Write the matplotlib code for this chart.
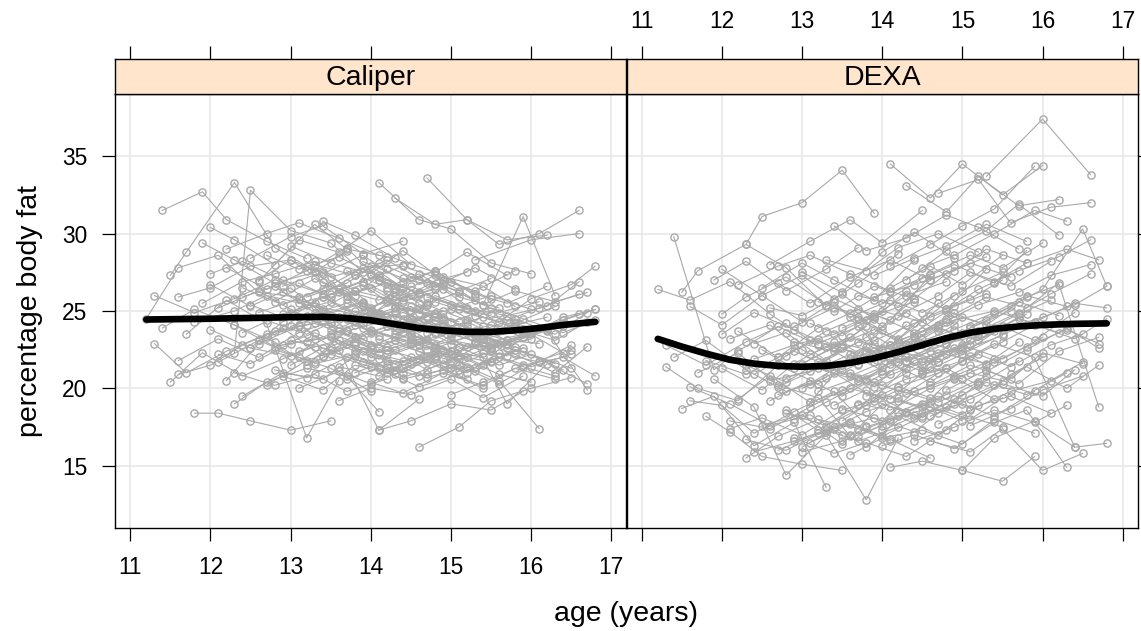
import matplotlib
matplotlib.use("Agg")
import matplotlib.pyplot as plt

plt.rcParams['font.family'] = ['Liberation Sans', 'DejaVu Sans']

# one row per girl: visit ages, caliper estimate, DEXA estimate
ages = [
    [11.4, 11.9, 12.2, 12.7, 13.2], [11.2, 11.6, 12.1, 12.6, 13.1], [11.5, 11.7, 12.3, 12.8, 13.3],
    [11.8, 12.1, 12.5, 13.0, 13.5], [12.3, 12.5, 13.0, 13.5, 13.9], [11.6, 12.0, 12.4, 12.9, 13.4, 13.8],
    [11.5, 11.9, 12.4, 12.9, 13.3], [11.7, 12.2, 12.7, 13.2, 13.6], [11.9, 12.4, 12.8, 13.3, 13.8, 14.2],
    [12.0, 12.5, 13.0, 13.4, 13.9], [12.0, 12.3, 12.8, 13.3, 13.7, 14.2], [12.1, 12.6, 13.1, 13.5, 14.0],
    [12.2, 12.6, 13.1, 13.6, 14.1], [12.2, 12.7, 13.2, 13.7, 14.1, 14.6], [12.3, 12.8, 13.2, 13.7, 14.2],
    [12.4, 12.9, 13.4, 13.8, 14.3], [12.4, 12.8, 13.3, 13.8, 14.3, 14.7], [12.5, 13.0, 13.4, 13.9, 14.4],
    [12.5, 13.0, 13.5, 14.0, 14.5], [12.6, 13.1, 13.5, 14.0, 14.5, 14.9], [12.6, 13.0, 13.5, 14.0, 14.4],
    [12.7, 13.2, 13.6, 14.1, 14.6], [12.7, 13.1, 13.6, 14.1, 14.5, 15.0], [12.8, 13.3, 13.7, 14.2, 14.7],
    [12.8, 13.2, 13.7, 14.2, 14.6], [12.9, 13.4, 13.9, 14.3, 14.8, 15.3], [12.9, 13.3, 13.8, 14.3, 14.8],
    [13.0, 13.5, 14.0, 14.4, 14.9], [13.0, 13.4, 13.9, 14.4, 14.9, 15.3], [13.1, 13.6, 14.0, 14.5, 15.0],
    [13.1, 13.5, 14.0, 14.5, 14.9], [13.2, 13.7, 14.1, 14.6, 15.1], [13.2, 13.6, 14.1, 14.6, 15.0, 15.5],
    [13.3, 13.8, 14.2, 14.7, 15.2], [13.3, 13.7, 14.2, 14.7, 15.1], [13.4, 13.9, 14.3, 14.8, 15.3],
    [13.4, 13.8, 14.3, 14.8, 15.2, 15.7], [13.5, 14.0, 14.4, 14.9, 15.4], [13.5, 13.9, 14.4, 14.9, 15.3],
    [13.6, 14.1, 14.5, 15.0, 15.5], [13.6, 14.0, 14.5, 15.0, 15.4, 15.9], [13.7, 14.2, 14.6, 15.1, 15.6],
    [13.7, 14.1, 14.6, 15.1, 15.5], [13.8, 14.3, 14.7, 15.2, 15.7], [13.8, 14.2, 14.7, 15.2, 15.6, 16.1],
    [13.9, 14.4, 14.8, 15.3, 15.8], [13.9, 14.3, 14.8, 15.3, 15.7], [14.0, 14.5, 14.9, 15.4, 15.9],
    [14.0, 14.4, 14.9, 15.4, 15.8, 16.3], [14.1, 14.6, 15.0, 15.5, 16.0], [14.1, 14.5, 15.0, 15.5, 15.9],
    [14.2, 14.7, 15.1, 15.6, 16.1], [14.2, 14.6, 15.1, 15.6, 16.0, 16.5], [14.3, 14.8, 15.2, 15.7, 16.2],
    [14.3, 14.7, 15.2, 15.7, 16.1], [14.4, 14.9, 15.3, 15.8, 16.3], [14.4, 14.8, 15.3, 15.8, 16.2, 16.7],
    [14.5, 15.0, 15.4, 15.9, 16.4], [14.5, 14.9, 15.4, 15.9, 16.3], [14.6, 15.1, 15.5, 16.0, 16.5],
    [14.6, 15.0, 15.5, 16.0, 16.4, 16.8], [14.7, 15.2, 15.6, 16.1, 16.6], [14.7, 15.1, 15.6, 16.1, 16.5],
    [14.8, 15.3, 15.7, 16.2, 16.7], [14.8, 15.2, 15.7, 16.2, 16.6], [15.0, 15.5, 15.9, 16.4, 16.8],
    [15.0, 15.4, 15.9, 16.4, 16.8], [15.1, 15.6, 16.0, 16.5, 16.8], [11.3, 11.8, 12.3, 12.8],
    [11.6, 12.1, 12.6, 13.1, 13.5], [11.9, 12.3, 12.8, 13.3, 13.7], [12.0, 12.5, 12.9, 13.4, 13.9, 14.3],
    [12.1, 12.6, 13.0, 13.5, 14.0], [12.3, 12.7, 13.2, 13.7, 14.1], [12.6, 13.1, 13.6, 14.0, 14.5],
    [12.9, 13.4, 13.8, 14.3, 14.8], [13.0, 13.5, 13.9, 14.4, 14.9], [13.2, 13.7, 14.1, 14.6, 15.1, 15.5],
    [13.5, 14.0, 14.5, 14.9, 15.4], [13.7, 14.2, 14.7, 15.1, 15.6], [14.0, 14.5, 14.9, 15.4, 15.8],
    [14.2, 14.7, 15.1, 15.6, 16.0], [14.5, 15.0, 15.5, 15.9, 16.4], [14.9, 15.4, 15.8, 16.3, 16.7],
    [15.2, 15.7, 16.1, 16.6], [13.1, 13.6, 14.1, 14.6, 15.0], [12.4, 12.9, 13.3, 13.8, 14.3],
    [13.8, 14.3, 14.8, 15.3, 15.7, 16.2], [13.4, 13.9, 14.4, 14.8, 15.3], [12.8, 13.3, 13.8, 14.2, 14.7],
    [13.6, 14.1, 14.6, 15.0, 15.5], [14.3, 14.8, 15.3, 15.7, 16.2], [15.3, 15.8, 16.3, 16.7],
    [15.3, 16.0, 16.6], [14.1, 14.6, 15.0, 15.4, 15.9],
    [11.3, 11.7, 12.2, 12.7, 13.2], [11.6, 12.0, 12.5, 13.0, 13.4, 13.9], [11.8, 12.3, 12.7, 13.2, 13.7],
    [12.0, 12.4, 12.9, 13.4, 13.8], [12.1, 12.5, 13.0, 13.5, 13.9, 14.4], [12.2, 12.7, 13.1, 13.6, 14.1],
    [12.3, 12.8, 13.3, 13.7, 14.2], [12.5, 12.9, 13.4, 13.9, 14.3, 14.8], [12.6, 13.1, 13.5, 14.0, 14.5],
    [12.7, 13.1, 13.6, 14.1, 14.6], [12.8, 13.3, 13.8, 14.2, 14.7, 15.2], [12.9, 13.4, 13.8, 14.3, 14.8],
    [13.0, 13.4, 13.9, 14.4, 14.8], [13.1, 13.6, 14.0, 14.5, 15.0, 15.4], [13.2, 13.7, 14.2, 14.6, 15.1],
    [13.3, 13.8, 14.2, 14.7, 15.2], [13.4, 13.8, 14.3, 14.8, 15.3], [13.5, 14.0, 14.4, 14.9, 15.4, 15.8],
    [13.6, 14.1, 14.5, 15.0, 15.5], [13.7, 14.1, 14.6, 15.1, 15.5], [13.8, 14.3, 14.8, 15.2, 15.7],
    [13.9, 14.4, 14.8, 15.3, 15.8, 16.2], [14.0, 14.5, 15.0, 15.4, 15.9], [14.1, 14.6, 15.1, 15.5, 16.0],
    [14.2, 14.7, 15.2, 15.6, 16.1, 16.5], [14.3, 14.8, 15.2, 15.7, 16.2], [14.4, 14.9, 15.4, 15.8, 16.3],
    [14.6, 15.1, 15.5, 16.0, 16.4], [14.7, 15.2, 15.7, 16.1, 16.6], [14.9, 15.4, 15.8, 16.3, 16.7],
    [15.1, 15.6, 16.0, 16.5], [15.4, 15.8, 16.3, 16.7], [11.4, 11.8, 12.3, 12.8, 13.3],
    [12.4, 12.9, 13.4, 13.9, 14.4], [13.0, 13.5, 14.0, 14.5, 15.0], [13.6, 14.0, 14.5, 15.0, 15.5, 16.0],
    [14.4, 14.9, 15.4, 15.9, 16.3], [12.7, 13.2, 13.7, 14.2, 14.6], [13.9, 14.4, 14.9, 15.3, 15.8],
    [15.0, 15.5, 15.9, 16.4, 16.8],
]

caliper = [
    [31.5, 32.7, 30.9, 29.5, 28.4], [24.5, 27.8, 28.6, 26.2, 25.9], [27.3, 28.8, 33.3, 29.1, 27.6],
    [18.4, 18.4, 17.9, 17.3, 17.9], [22.3, 32.8, 30.2, 29.4, 27.5], [20.9, 21.5, 22.8, 23.9, 22.1, 23.0],
    [20.4, 22.3, 20.8, 21.9, 22.7], [23.5, 25.7, 24.2, 16.8, 20.5], [25.5, 26.9, 27.4, 28.2, 26.0, 27.7],
    [26.7, 25.3, 26.5, 24.8, 25.6], [30.4, 29.6, 28.0, 30.6, 29.0, 28.5], [21.7, 23.1, 22.0, 21.3, 19.8],
    [20.5, 22.9, 24.0, 24.6, 23.4], [27.8, 26.4, 27.6, 29.1, 27.0, 25.5], [24.1, 23.0, 21.5, 23.7, 24.4],
    [19.5, 21.0, 20.6, 22.1, 21.2], [25.9, 26.6, 24.9, 26.3, 23.8, 24.7], [28.4, 29.8, 30.5, 28.7, 29.5],
    [22.6, 22.1, 23.4, 22.0, 21.6], [24.9, 25.8, 26.7, 25.2, 24.3, 25.0], [27.0, 28.3, 27.2, 27.9, 26.5],
    [20.2, 21.8, 22.5, 17.3, 19.3], [23.3, 24.6, 23.9, 24.9, 23.5, 22.4], [25.6, 27.1, 26.0, 26.8, 25.4],
    [21.2, 20.7, 22.0, 21.4, 20.8], [26.2, 25.1, 24.2, 26.0, 27.3, 25.7], [22.8, 23.6, 22.4, 23.1, 21.9],
    [29.2, 28.1, 27.4, 28.9, 27.0], [24.0, 24.7, 25.5, 23.6, 24.2, 23.0], [20.0, 21.1, 20.3, 22.0, 21.5],
    [26.8, 25.9, 26.5, 25.0, 24.5], [23.0, 23.8, 22.6, 23.9, 22.7], [27.9, 26.4, 27.3, 26.1, 26.9, 25.8],
    [21.6, 22.2, 21.0, 21.7, 20.6], [25.3, 24.5, 25.7, 24.1, 23.7], [24.4, 23.2, 24.0, 22.8, 23.4],
    [30.8, 29.9, 28.4, 27.5, 28.8, 27.3], [22.2, 21.4, 20.6, 21.2, 20.0], [26.1, 26.9, 25.6, 26.4, 25.0],
    [23.7, 24.8, 23.4, 22.9, 22.5], [19.2, 20.0, 19.6, 20.6, 19.4, 20.8], [27.6, 26.5, 27.4, 25.9, 25.2],
    [22.9, 22.3, 23.2, 22.1, 21.7], [25.0, 24.2, 25.4, 24.4, 23.9], [21.0, 21.8, 20.7, 21.4, 20.5, 17.4],
    [28.2, 27.1, 26.6, 27.8, 26.4], [23.9, 23.3, 22.6, 23.5, 22.8], [24.6, 25.3, 24.1, 23.2, 23.8],
    [20.4, 19.7, 21.0, 20.2, 21.3, 20.6], [33.3, 30.9, 30.3, 28.1, 27.4], [17.3, 17.9, 19.0, 18.6, 19.8],
    [26.3, 25.5, 26.2, 24.9, 25.6], [22.5, 21.9, 22.7, 21.5, 22.2, 21.3], [32.3, 30.6, 30.9, 29.6, 29.9],
    [24.8, 23.6, 24.3, 23.1, 22.9], [21.3, 22.4, 21.1, 22.5, 21.6], [25.7, 24.9, 23.6, 24.5, 23.7, 19.9],
    [23.1, 22.2, 23.0, 22.4, 21.2], [27.2, 26.7, 25.4, 31.1, 26.0], [16.2, 17.5, 19.2, 20.0, 20.7],
    [24.2, 23.5, 22.8, 23.6, 24.4, 25.1], [33.6, 30.9, 29.3, 30.0, 31.5], [20.9, 21.5, 20.3, 21.8, 22.5],
    [22.0, 22.9, 19.0, 21.6, 20.3], [26.0, 25.2, 24.7, 25.3, 26.9], [23.4, 24.1, 23.3, 24.6, 25.1],
    [19.6, 20.4, 21.5, 22.0, 20.8], [25.1, 24.3, 25.8, 26.7, 27.9], [26.0, 24.9, 25.8, 27.0],
    [21.8, 23.2, 22.0, 23.6, 24.3], [29.4, 28.3, 26.8, 27.5, 28.9], [23.8, 22.6, 24.3, 25.9, 24.7, 26.2],
    [25.2, 26.3, 25.1, 23.8, 22.8], [19.0, 20.4, 21.3, 20.8, 18.5], [26.9, 29.6, 28.8, 30.2, 28.0],
    [20.8, 19.9, 21.5, 20.9, 22.3], [24.9, 25.6, 24.5, 25.9, 26.8], [25.9, 26.8, 28.1, 27.0, 26.3, 27.1],
    [23.5, 22.7, 23.8, 22.5, 22.0], [25.8, 24.0, 22.5, 23.7, 22.9], [27.3, 26.1, 27.2, 26.6, 25.3],
    [22.7, 21.2, 22.1, 20.9, 20.4], [24.5, 23.1, 22.6, 23.3, 24.0], [21.9, 23.0, 22.2, 21.0, 22.7],
    [24.0, 22.6, 23.9, 24.8], [22.4, 23.1, 21.9, 22.8, 23.6], [23.6, 24.8, 25.5, 24.1, 25.0],
    [24.3, 25.2, 24.8, 23.7, 23.1, 23.8], [27.4, 28.6, 26.9, 27.6, 26.0], [23.7, 24.2, 23.3, 24.0, 24.6],
    [21.4, 20.8, 21.9, 21.3, 22.4], [26.5, 27.6, 26.1, 25.5, 26.6], [23.0, 24.2, 23.5, 24.9],
    [28.3, 29.6, 30.0], [23.2, 22.4, 21.8, 22.9, 23.5],
    [22.9, 21.0, 22.4, 23.5, 24.1], [25.9, 26.5, 27.9, 28.3, 26.9, 25.4], [24.3, 25.0, 26.0, 25.4, 24.9],
    [27.4, 28.2, 27.0, 26.1, 27.3], [22.2, 21.6, 22.9, 23.3, 22.4, 21.8], [29.0, 30.0, 30.7, 29.7, 28.6],
    [21.0, 20.2, 20.9, 19.8, 20.6], [25.4, 24.6, 25.9, 26.7, 25.3, 24.6], [23.1, 24.1, 22.7, 23.8, 23.0],
    [28.6, 27.7, 28.5, 27.2, 26.1], [22.5, 21.7, 23.0, 22.2, 23.1, 22.0], [26.6, 27.5, 26.3, 25.7, 26.4],
    [21.5, 22.6, 21.7, 21.0, 22.1], [25.5, 26.2, 25.0, 24.4, 25.1, 24.0], [24.7, 25.5, 24.6, 25.2, 24.3],
    [28.0, 27.3, 28.3, 26.8, 27.5], [22.0, 22.8, 21.6, 22.4, 21.3], [24.2, 24.9, 23.9, 24.6, 23.4, 22.7],
    [26.4, 25.7, 26.6, 25.4, 24.8], [20.6, 21.3, 20.1, 20.9, 21.8], [23.3, 22.5, 23.6, 22.7, 22.1],
    [25.3, 24.5, 25.6, 24.7, 24.1, 24.6], [22.3, 23.2, 22.4, 21.5, 22.6], [27.0, 26.2, 25.3, 26.0, 25.1],
    [21.5, 22.1, 21.0, 22.3, 21.7, 22.8], [23.5, 24.4, 23.7, 22.9, 23.9], [24.9, 24.0, 23.2, 24.2, 25.3],
    [22.8, 21.9, 22.7, 23.5, 22.3], [25.9, 25.1, 24.4, 25.2, 26.1], [23.8, 24.6, 23.9, 23.1, 24.3],
    [21.2, 22.0, 21.4, 22.2], [25.4, 26.3, 25.6, 26.2], [23.9, 25.1, 24.1, 22.7, 23.2],
    [26.5, 25.4, 26.4, 27.8, 28.0], [23.1, 22.5, 23.6, 24.5, 23.8], [24.5, 23.7, 22.9, 23.6, 22.6, 23.2],
    [20.7, 21.6, 22.3, 21.4, 20.8], [24.4, 23.5, 24.7, 25.6, 24.9], [26.9, 27.9, 27.0, 26.3, 27.6],
    [24.3, 25.2, 24.5, 23.6, 24.4],
]

dexa = [
    [29.8, 21.2, 22.4, 24.0, 22.8], [26.4, 25.7, 26.9, 24.8, 23.1], [26.2, 27.6, 29.3, 27.8, 25.3],
    [18.2, 17.2, 15.6, 15.1, 14.7], [29.3, 31.1, 32.0, 34.1, 31.3], [19.2, 18.9, 17.1, 18.5, 19.8, 17.6],
    [18.7, 19.5, 16.3, 17.8, 13.6], [21.0, 22.3, 20.2, 19.4, 16.9], [20.6, 18.8, 14.4, 17.0, 12.8, 16.8],
    [27.7, 26.0, 24.3, 25.6, 22.9], [24.8, 25.9, 27.2, 25.4, 26.8, 28.7], [17.9, 17.4, 18.8, 19.9, 21.1],
    [19.3, 20.8, 19.1, 22.2, 20.9], [23.7, 22.0, 23.9, 25.1, 24.4, 27.3], [21.5, 20.4, 21.7, 23.0, 22.5],
    [15.9, 16.6, 17.5, 16.2, 18.4], [22.9, 23.6, 21.8, 23.3, 24.9, 23.7], [26.5, 28.1, 27.0, 25.7, 28.3],
    [17.6, 18.3, 16.4, 19.0, 18.1], [20.5, 21.1, 22.6, 21.4, 22.9, 24.1], [25.2, 24.7, 26.1, 24.0, 25.8],
    [16.0, 17.1, 17.8, 16.7, 15.5], [19.6, 20.3, 21.9, 22.8, 21.2, 23.6], [22.1, 23.7, 24.6, 23.2, 25.5],
    [18.6, 17.3, 18.9, 20.1, 19.4], [23.0, 22.4, 24.5, 26.3, 25.1, 27.7], [18.0, 19.1, 20.5, 19.7, 21.3],
    [27.5, 26.2, 28.8, 30.1, 28.4], [20.0, 21.0, 19.4, 21.8, 22.6, 21.5], [16.5, 17.7, 16.9, 18.2, 19.6],
    [24.2, 23.4, 25.0, 24.3, 26.0], [19.8, 20.7, 21.6, 20.4, 22.1], [25.6, 24.9, 26.5, 27.9, 26.7, 28.6],
    [17.2, 18.5, 19.2, 18.4, 20.3], [22.7, 21.5, 23.1, 24.0, 22.8], [21.2, 20.1, 22.0, 22.9, 23.8],
    [30.5, 28.9, 29.7, 31.2, 30.4, 29.0], [18.7, 17.9, 19.8, 20.7, 19.3], [23.9, 24.8, 23.6, 25.3, 26.1],
    [20.8, 21.9, 21.1, 22.5, 23.4], [15.7, 16.8, 17.3, 16.4, 18.0, 17.1], [26.0, 25.3, 27.0, 28.1, 27.2],
    [19.0, 18.6, 20.0, 21.0, 20.5], [22.3, 22.8, 23.9, 23.1, 24.6], [17.5, 18.2, 17.0, 18.9, 19.5, 18.4],
    [27.3, 28.4, 29.2, 30.6, 29.5], [20.4, 21.3, 22.2, 21.6, 23.0], [22.0, 23.2, 24.4, 25.0, 24.2],
    [16.3, 17.0, 16.1, 17.8, 18.6, 14.9], [34.5, 32.3, 34.5, 32.5, 34.4], [14.9, 15.3, 14.7, 14.0, 15.6],
    [24.7, 26.0, 27.5, 26.6, 28.2], [19.4, 20.2, 21.5, 20.6, 22.3, 21.6], [33.1, 31.4, 33.7, 31.8, 32.2],
    [22.6, 21.7, 23.5, 24.8, 25.7], [18.1, 19.3, 20.4, 19.6, 21.0], [23.4, 24.5, 25.9, 25.2, 26.8, 18.8],
    [20.9, 21.8, 22.9, 22.0, 16.2], [27.8, 28.6, 30.0, 31.5, 30.8], [16.6, 15.9, 17.4, 14.7, 15.8],
    [21.9, 22.7, 23.8, 24.6, 25.4, 26.6], [32.6, 33.5, 30.7, 31.7, 32.0], [17.7, 18.6, 19.8, 20.5, 21.7],
    [19.9, 21.2, 20.3, 22.4, 23.3], [25.1, 26.4, 27.6, 28.5, 29.6], [22.2, 23.5, 24.3, 25.5, 25.2],
    [14.7, 16.8, 17.9, 16.2, 16.45], [24.0, 25.3, 26.4, 30.3, 26.6], [22.8, 21.5, 23.0, 24.2],
    [20.1, 19.0, 17.6, 18.3, 17.0], [27.0, 28.2, 26.3, 27.7, 29.1], [21.3, 19.9, 21.6, 23.0, 22.4, 24.1],
    [23.2, 24.1, 22.5, 21.2, 23.8], [15.5, 16.9, 18.0, 17.4, 16.6], [28.0, 29.5, 30.9, 29.4, 31.5],
    [16.8, 15.8, 16.5, 15.6, 17.3], [21.6, 22.9, 21.7, 23.4, 24.9], [22.9, 24.0, 22.8, 24.7, 25.8, 27.0],
    [17.9, 19.6, 18.8, 20.8, 21.9], [24.5, 23.0, 22.3, 23.9, 25.0], [25.5, 27.1, 28.0, 26.8, 28.9],
    [18.5, 19.5, 18.7, 20.9, 22.0], [21.0, 22.2, 24.0, 23.1, 24.9], [19.0, 20.2, 21.4, 20.0, 21.5],
    [23.7, 24.9, 26.1, 27.4], [19.1, 20.0, 19.3, 21.4, 20.6], [20.9, 22.4, 21.5, 22.7, 21.0],
    [22.4, 21.8, 23.2, 24.4, 25.6, 24.7], [25.0, 26.6, 25.8, 27.4, 28.5], [20.7, 21.4, 20.6, 22.1, 21.7],
    [17.0, 18.0, 19.1, 18.3, 17.5], [27.0, 28.9, 30.2, 31.9, 29.9], [21.1, 22.5, 23.9, 22.6],
    [33.7, 37.4, 33.8], [27.9, 29.3, 30.5, 31.6, 34.35],
    [21.4, 20.0, 19.2, 21.5, 20.3], [25.3, 24.1, 26.0, 27.3, 25.8, 24.6], [21.8, 20.9, 22.0, 23.2, 22.2],
    [23.5, 24.9, 23.8, 22.6, 24.0], [17.4, 18.1, 17.0, 18.6, 19.2, 18.3], [26.7, 27.9, 28.6, 27.4, 26.3],
    [16.7, 16.0, 17.3, 16.6, 17.5], [22.5, 21.3, 22.7, 23.8, 22.9, 24.3], [19.2, 20.5, 19.5, 20.9, 21.8],
    [26.8, 25.5, 27.2, 28.3, 27.0], [18.4, 17.6, 18.9, 19.9, 19.1, 20.4], [24.0, 25.2, 24.4, 26.0, 26.9],
    [16.2, 17.4, 18.1, 17.2, 18.8], [22.2, 23.3, 22.6, 23.7, 24.6, 23.9], [20.3, 21.6, 22.4, 21.9, 23.1],
    [28.3, 27.6, 29.1, 30.0, 28.8], [18.9, 19.9, 18.5, 19.6, 20.8], [21.5, 22.5, 23.3, 22.4, 23.7, 24.8],
    [24.6, 25.7, 24.9, 26.3, 27.5], [16.9, 17.9, 18.8, 18.0, 19.4], [19.5, 20.6, 21.3, 20.2, 21.8],
    [23.1, 24.2, 25.0, 24.1, 25.9, 26.7], [17.3, 18.4, 19.0, 18.2, 19.8], [26.2, 27.4, 28.6, 27.8, 29.4],
    [20.1, 21.0, 22.2, 21.4, 22.8, 23.5], [21.7, 22.9, 23.4, 24.5, 23.6], [22.9, 23.8, 24.9, 26.0, 25.3],
    [18.2, 19.3, 20.3, 19.5, 21.2], [24.1, 25.4, 26.2, 27.3, 28.0], [20.6, 21.7, 22.7, 23.8, 22.9],
    [17.6, 18.7, 19.9, 20.8], [26.9, 28.1, 29.0, 28.3], [22.0, 23.1, 21.2, 19.8, 20.7],
    [21.9, 22.8, 23.5, 24.7, 25.6], [15.9, 16.6, 17.6, 19.0, 17.9], [21.0, 20.2, 21.5, 22.8, 21.9, 23.3],
    [16.6, 17.5, 18.6, 17.8, 18.9], [20.1, 21.3, 20.5, 21.7, 22.4], [25.9, 26.7, 27.6, 29.0, 28.1],
    [21.8, 23.0, 24.1, 23.2, 24.5],
]

# smooth curves
smooth_age_caliper = [11.2, 12.0, 12.5, 13.0, 13.4, 13.7, 14.0, 14.3, 14.6, 14.9, 15.2, 15.5, 15.8, 16.1, 16.4, 16.8]
smooth_caliper = [24.45, 24.5, 24.55, 24.6, 24.62, 24.55, 24.4, 24.15, 23.9, 23.75, 23.65, 23.65, 23.75, 23.9, 24.1, 24.3]
smooth_age_dexa = [11.2, 11.5, 11.8, 12.1, 12.4, 12.7, 13.0, 13.3, 13.6, 13.9, 14.2, 14.5, 14.8, 15.1, 15.4, 15.7, 16.0, 16.4, 16.8]
smooth_dexa = [23.2, 22.7, 22.25, 21.85, 21.6, 21.45, 21.4, 21.45, 21.65, 21.95, 22.35, 22.8, 23.25, 23.6, 23.85, 24.0, 24.1, 24.17, 24.2]

panels = ["Caliper", "DEXA"]
x_ticks = [11, 12, 13, 14, 15, 16, 17]
y_ticks = [15, 20, 25, 30, 35]

W, H = 1141, 631
fig = plt.figure(figsize=(W / 100, H / 100), dpi=100)

px_left, px_mid, px_right = 115, 626.5, 1138
px_top, px_bot, px_strip = 94.3, 527.7, 59.3

tick_kw = dict(direction='out', length=9.6, width=0.9, labelsize=16.4, pad=10.5, color='black')

for i, (name, vals, s_age, smooth) in enumerate(zip(panels, [caliper, dexa],
                                                   [smooth_age_caliper, smooth_age_dexa],
                                                   [smooth_caliper, smooth_dexa])):
    x0 = px_left if i == 0 else px_mid
    x1 = px_mid if i == 0 else px_right
    ax = fig.add_axes([x0 / W, (H - px_bot) / H, (x1 - x0) / W, (px_bot - px_top) / H])
    sx = fig.add_axes([x0 / W, (H - px_top) / H, (x1 - x0) / W, (px_top - px_strip) / H])

    ax.set_xlim(10.81, 17.19)
    ax.set_ylim(11.0, 39.0)
    for g in x_ticks:
        ax.axvline(g, color='#E6E6E6', lw=1.1, zorder=0)
    for g in y_ticks:
        ax.axhline(g, color='#E6E6E6', lw=1.1, zorder=0)

    for a, v in zip(ages, vals):
        ax.plot(a, v, color='#A9A9A9', lw=0.8, marker='o', ms=5.2, mfc='none',
                mec='#A9A9A9', mew=1.0, zorder=2)
    ax.plot(s_age, smooth, color='black', lw=4.8, solid_capstyle='round',
            solid_joinstyle='round', zorder=3)

    ax.set_xticks(x_ticks)
    ax.set_yticks(y_ticks)
    ax.tick_params(axis='both', **tick_kw)
    if i == 0:
        ax.tick_params(axis='x', bottom=True, labelbottom=True)
        ax.tick_params(axis='y', left=True, labelleft=True, right=False)
    else:
        ax.tick_params(axis='x', bottom=True, labelbottom=False)
        ax.tick_params(axis='y', left=False, labelleft=False, right=True, labelright=False)
    for s in ax.spines.values():
        s.set_linewidth(1.0)

    sx.set_xlim(10.81, 17.19)
    sx.set_ylim(0, 1)
    sx.set_facecolor('#FFE5CC')
    sx.set_yticks([])
    sx.set_xticks(x_ticks)
    sx.tick_params(axis='x', **tick_kw)
    sx.tick_params(axis='x', bottom=False, labelbottom=False, top=True, labeltop=(i == 1), pad=9)
    for s in sx.spines.values():
        s.set_linewidth(1.0)
    sx.text(0.5, 0.47, name, transform=sx.transAxes, ha='center', va='center', fontsize=20.5)

fig.text(px_mid / W, (H - 614) / H, "age (years)", ha='center', va='center', fontsize=20.5)
fig.text(30 / W, (H - (px_top + px_bot) / 2) / H, "percentage body fat", rotation=90,
         ha='center', va='center', fontsize=20.5)

fig.savefig("out.png", dpi=100)
